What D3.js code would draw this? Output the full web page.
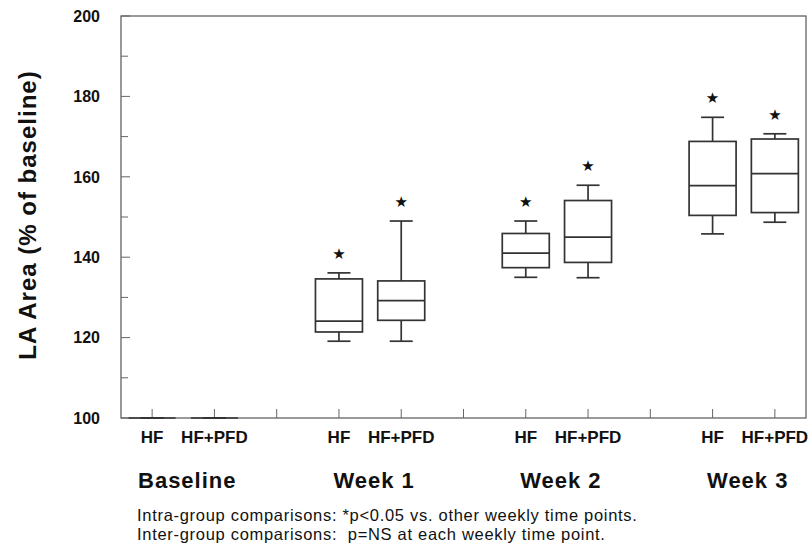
<!DOCTYPE html>
<html>
<head>
<meta charset="utf-8">
<script src="https://cdn.jsdelivr.net/npm/d3@7"></script>
<style>
  body { margin: 0; background: #fff; }
  text { font-family: "Liberation Sans", Arial, sans-serif; fill: #111; }
</style>
</head>
<body>
<div id="chart"></div>
<script>
// groups and box categories
const groups = ["Baseline", "Week 1", "Week 2", "Week 3"];
const treatments = ["HF", "HF+PFD"];

// box stats per group: [min, q1, median, q3, max] (% of baseline)
const hfBoxes = [
  [100, 100, 100, 100, 100],
  [119.1, 121.4, 124.1, 134.6, 136.1],
  [135.0, 137.4, 141.0, 145.9, 149.0],
  [145.8, 150.4, 157.8, 168.8, 174.8]
];
const pfdBoxes = [
  [100, 100, 100, 100, 100],
  [119.1, 124.3, 129.2, 134.1, 149.0],
  [134.9, 138.7, 145.0, 154.1, 157.9],
  [148.7, 151.1, 160.8, 169.4, 170.7]
];
// significance marker (* p<0.05) shown per group
const significant = [false, true, true, true];

const yTicks = [100, 120, 140, 160, 180, 200];
const yMinorTicks = [110, 130, 150, 170, 190];

const footnotes = [
  "Intra-group comparisons: *p<0.05 vs. other weekly time points.",
  "Inter-group comparisons:  p=NS at each weekly time point."
];

// dimensions
const W = 809, H = 548;
const plot = { left: 121, right: 806, top: 16, bottom: 418 };

const svg = d3.select("#chart").append("svg")
    .attr("width", W)
    .attr("height", H);

// each group takes 3 slots: HF, HF+PFD, gap
const nSlots = groups.length * 3 - 1;
const x = d3.scaleLinear()
    .domain([-0.5, nSlots - 0.5])
    .range([plot.left, plot.right]);
const y = d3.scaleLinear()
    .domain([100, 200])
    .range([plot.bottom, plot.top]);

// flatten boxes
const boxes = [];
groups.forEach((g, gi) => {
  [hfBoxes[gi], pfdBoxes[gi]].forEach((b, ti) => {
    boxes.push({ group: g, treatment: treatments[ti], slot: gi * 3 + ti, stats: b, sig: significant[gi] });
  });
});

const lineColor = "#333";

// frame: top, left, right, bottom
svg.append("rect")
    .attr("x", plot.left)
    .attr("y", plot.top)
    .attr("width", plot.right - plot.left)
    .attr("height", plot.bottom - plot.top)
    .attr("fill", "none")
    .attr("stroke", "#555")
    .attr("stroke-width", 1.2);

// y axis ticks (inward) + labels
const yAxis = svg.append("g");
yAxis.selectAll("line.major")
  .data(yTicks)
  .enter().append("line")
    .attr("x1", plot.left).attr("x2", plot.left + 9)
    .attr("y1", d => y(d)).attr("y2", d => y(d))
    .attr("stroke", "#666").attr("stroke-width", 1);
yAxis.selectAll("line.minor")
  .data(yMinorTicks)
  .enter().append("line")
    .attr("x1", plot.left).attr("x2", plot.left + 7)
    .attr("y1", d => y(d)).attr("y2", d => y(d))
    .attr("stroke", "#666").attr("stroke-width", 1);
yAxis.selectAll("text")
  .data(yTicks)
  .enter().append("text")
    .attr("x", 100)
    .attr("y", d => y(d))
    .attr("dy", "0.36em")
    .attr("text-anchor", "end")
    .style("font-size", "16px")
    .style("font-weight", "bold")
    .text(d => d);

// x axis ticks (upward) at every slot
svg.append("g").selectAll("line")
  .data(d3.range(nSlots))
  .enter().append("line")
    .attr("x1", d => x(d)).attr("x2", d => x(d))
    .attr("y1", plot.bottom).attr("y2", plot.bottom - 9)
    .attr("stroke", "#666").attr("stroke-width", 1);

// boxes
const halfW = 23.5, capW = 11.5;
const bx = svg.append("g").selectAll("g")
  .data(boxes)
  .enter().append("g")
    .attr("fill", "none")
    .attr("stroke", lineColor)
    .attr("stroke-width", 1.7);

// whiskers
bx.append("line")
    .attr("x1", d => x(d.slot)).attr("x2", d => x(d.slot))
    .attr("y1", d => y(d.stats[0])).attr("y2", d => y(d.stats[1]));
bx.append("line")
    .attr("x1", d => x(d.slot)).attr("x2", d => x(d.slot))
    .attr("y1", d => y(d.stats[3])).attr("y2", d => y(d.stats[4]));
bx.append("line")
    .attr("x1", d => x(d.slot) - capW).attr("x2", d => x(d.slot) + capW)
    .attr("y1", d => y(d.stats[0])).attr("y2", d => y(d.stats[0]));
bx.append("line")
    .attr("x1", d => x(d.slot) - capW).attr("x2", d => x(d.slot) + capW)
    .attr("y1", d => y(d.stats[4])).attr("y2", d => y(d.stats[4]));
// box body
bx.append("rect")
    .attr("x", d => x(d.slot) - halfW)
    .attr("width", halfW * 2)
    .attr("y", d => y(d.stats[3]))
    .attr("height", d => y(d.stats[1]) - y(d.stats[3]));
// median
bx.append("line")
    .attr("x1", d => x(d.slot) - halfW).attr("x2", d => x(d.slot) + halfW)
    .attr("y1", d => y(d.stats[2])).attr("y2", d => y(d.stats[2]));

// significance stars
svg.append("g").selectAll("text")
  .data(boxes.filter(d => d.sig))
  .enter().append("text")
    .attr("x", d => x(d.slot))
    .attr("y", d => y(d.stats[4]) - 19)
    .attr("text-anchor", "middle")
    .attr("dominant-baseline", "central")
    .style("font-family", "DejaVu Sans")
    .style("font-size", "15px")
    .text("\u2605");

// treatment labels
svg.append("g").selectAll("text")
  .data(boxes)
  .enter().append("text")
    .attr("x", d => x(d.slot))
    .attr("y", 443)
    .attr("text-anchor", "middle")
    .style("font-size", "17px")
    .style("font-weight", "bold")
    .text(d => d.treatment);

// group labels
svg.append("g").selectAll("text")
  .data(groups)
  .enter().append("text")
    .attr("x", (d, i) => x(i * 3 + 0.5) + 4)
    .attr("y", 488)
    .attr("text-anchor", "middle")
    .style("font-size", "22px")
    .style("font-weight", "bold")
    .style("letter-spacing", "1px")
    .text(d => d);

// y axis title
svg.append("text")
    .attr("transform", "translate(36,215) rotate(-90)")
    .attr("text-anchor", "middle")
    .style("font-size", "24px")
    .style("font-weight", "bold")
    .style("letter-spacing", "1px")
    .text("LA Area (% of baseline)");

// footnotes
svg.append("g").selectAll("text")
  .data(footnotes)
  .enter().append("text")
    .attr("x", 137)
    .attr("y", (d, i) => 521 + i * 19)
    .style("font-size", "16.5px")
    .style("letter-spacing", "0.7px")
    .style("white-space", "pre")
    .attr("xml:space", "preserve")
    .text(d => d);
</script>
</body>
</html>
